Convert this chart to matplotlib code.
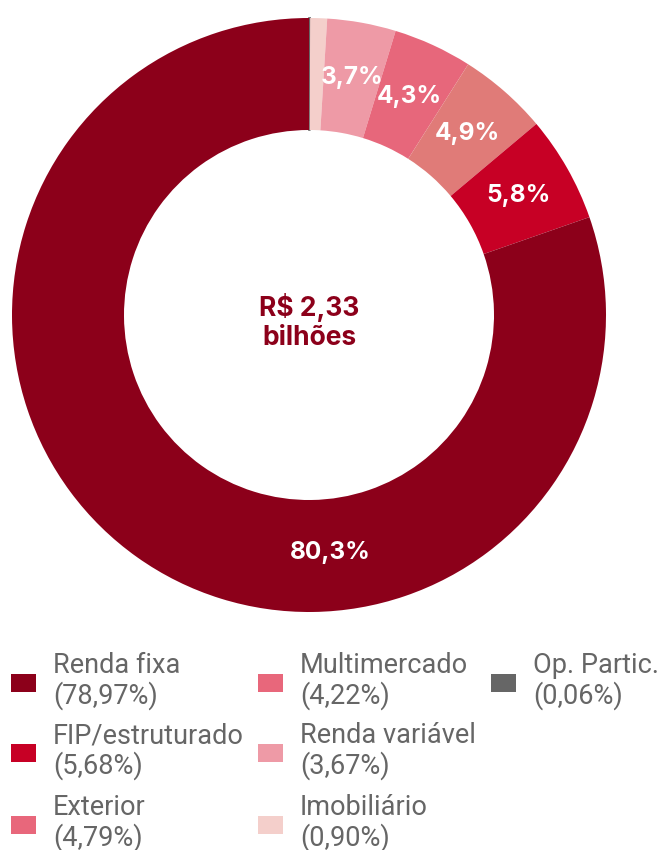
import matplotlib.pyplot as plt
from matplotlib.patches import Rectangle

plt.rcParams['font.family'] = ['Inter', 'DejaVu Sans']

# dados da carteira (% do total)
categorias = ['Op. Partic.', 'Imobiliário', 'Renda variável', 'Multimercado',
              'Exterior', 'FIP/estruturado', 'Renda fixa']
valores = [0.06, 0.90, 3.67, 4.22, 4.79, 5.68, 78.97]
cores = ['#666666', '#F4CFCB', '#EE9AA6', '#E7677B', '#E07B78', '#C70025', '#8C001A']

# ordem da legenda (por colunas)
ordem_legenda = ['Renda fixa', 'FIP/estruturado', 'Exterior', 'Multimercado',
                 'Renda variável', 'Imobiliário', 'Op. Partic.']
cores_legenda = {'Renda fixa': '#8C001A', 'FIP/estruturado': '#C70025', 'Exterior': '#E8677B',
                 'Multimercado': '#E8677B', 'Renda variável': '#EE9AA6', 'Imobiliário': '#F4CFCB',
                 'Op. Partic.': '#666666'}

total_texto = 'R$ 2,33\nbilhões'

W, H = 662, 850
fig = plt.figure(figsize=(W / 100, H / 100), dpi=100)
ax = fig.add_axes([0, 0, 1, 1])
ax.set_xlim(0, W)
ax.set_ylim(0, H)
ax.set_aspect('equal')
ax.axis('off')

cx, cy = 309, H - 315
r_ext, r_int = 297, 185


def fmt(p):
    return f'{p:.1f}%'.replace('.', ',') if p >= 2 else ''


wedges, textos, pcts = ax.pie(valores, colors=cores, startangle=90, counterclock=False,
                              center=(cx, cy), radius=r_ext, autopct=fmt,
                              pctdistance=(r_ext + r_int) / 2 / r_ext,
                              wedgeprops=dict(width=r_ext - r_int, linewidth=0),
                              textprops=dict(color='white', fontsize=17.5, fontweight='bold'))
ax.set_xlim(0, W)
ax.set_ylim(0, H)

# fatia minúscula: contorno para ficar visível
wedges[0].set_edgecolor('#666666')
wedges[0].set_linewidth(1.2)

# rótulo da renda fixa fica quase embaixo do centro
pcts[-1].set_position((cx + 21, cy - 237))

ax.text(cx, cy - 7, total_texto, ha='center', va='center', color='#8C001A',
        fontsize=19, fontweight='bold', linespacing=1.15)

# legenda manual
col_x = [11, 258, 491]
lin_y = [683, 753, 825]
for i, nome in enumerate(ordem_legenda):
    c, l = i // 3, i % 3
    x, y = col_x[c], H - lin_y[l]
    ax.add_patch(Rectangle((x, y - 9), 25, 18, color=cores_legenda[nome], lw=0))
    v = valores[categorias.index(nome)]
    pct = f'{v:.2f}'.replace('.', ',')
    ax.text(x + 42, y + 2, f'{nome}\n({pct}%)', ha='left', va='center',
            fontsize=19.5, color='#666666', family=['Roboto', 'DejaVu Sans'], linespacing=1.08)

fig.savefig('out.png', dpi=100)
